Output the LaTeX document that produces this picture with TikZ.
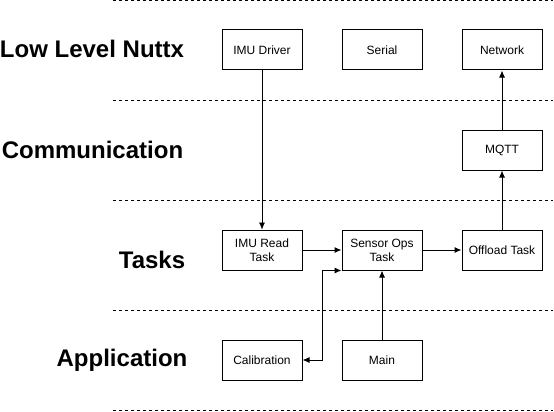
\documentclass[tikz,border=0pt]{standalone}
\usepackage{fontspec}
\setmainfont{Liberation Sans}
\usetikzlibrary{arrows.meta}
\begin{document}
\begin{tikzpicture}[x=1pt, y=-1pt,
    box/.style={shape=rectangle, draw, line width=1pt, minimum width=80pt, minimum height=40pt,
                inner sep=0pt, align=center, font=\fontsize{12}{14}\selectfont},
    layer/.style={font=\fontsize{24}{28}\selectfont\bfseries},
    sep/.style={dash pattern=on 3pt off 3pt, line width=1pt},
    link/.style={line width=1pt, -{Latex[length=7pt,width=6pt]}}]
    \useasboundingbox (0,0) rectangle (554,412);
    % layer separators
    \foreach \y in {1,100,200,310,410}
        \draw[sep] (113,\y) -- (553,\y);
    % layer names
    \node[layer] (lowlevel) at (92,49) {Low Level Nuttx};
    \node[layer] (comm) at (92.5,150) {Communication};
    \node[layer] (tasks) at (152,260) {Tasks};
    \node[layer] (app) at (122,360) {Application};
    % low level
    \node[box] (imudrv) at (262,50) {IMU Driver};
    \node[box] (serial) at (382,50) {Serial};
    \node[box] (network) at (502,50) {Network};
    % communication
    \node[box] (mqtt) at (502,150) {MQTT};
    % tasks
    \node[box] (imuread) at (262,250) {IMU Read\\Task};
    \node[box] (sensorops) at (382,250) {Sensor Ops\\Task};
    \node[box] (offload) at (502,250) {Offload Task};
    % application
    \node[box] (calib) at (262,360) {Calibration};
    \node[box] (main) at (382,360) {Main};
    % connectors
    \draw[link, line width=0.6pt] (imudrv.south) -- (imuread.north);
    \draw[link] (imuread.east) -- (sensorops.west);
    \draw[link] (sensorops.east) -- (offload.west);
    \draw[link] (offload.north) -- (mqtt.south);
    \draw[link] (mqtt.north) -- (network.south);
    \draw[link] (main.north) -- (sensorops.south);
    \draw[link, {Latex[length=7pt,width=6pt]}-{Latex[length=7pt,width=6pt]}]
        (calib.east) -- ++(20,0) |- (sensorops.south west);
\end{tikzpicture}
\end{document}
